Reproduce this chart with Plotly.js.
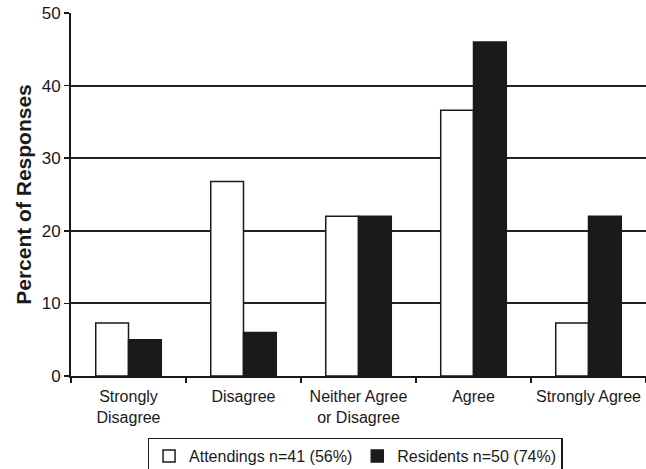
<!DOCTYPE html>
<html>
<head>
<meta charset="utf-8">
<script src="https://cdn.plot.ly/plotly-3.0.1.min.js"></script>
<style>html,body{margin:0;padding:0;background:#fff}#chart{width:646px;height:469px}</style>
</head>
<body>
<div id="chart"></div>
<script>
const categories = ["Strongly<br>Disagree", "Disagree", "Neither Agree<br>or Disagree", "Agree", "Strongly Agree"];
const attendings = [7.3, 26.8, 22.0, 36.6, 7.3];
const residents = [5.0, 6.0, 22.0, 46.0, 22.0];
const seriesNames = ["Attendings n=41 (56%)", "Residents n=50 (74%)"];
const yTicks = [0, 10, 20, 30, 40, 50];

const font = "Liberation Sans, Arial, sans-serif";
const data = [
  {type: "bar", x: categories, y: attendings, name: seriesNames[0],
   marker: {color: "#ffffff", line: {color: "#1a1a1a", width: 1.5}}},
  {type: "bar", x: categories, y: residents, name: seriesNames[1],
   marker: {color: "#1a1a1a", line: {color: "#1a1a1a", width: 1.5}}}
];
const layout = {
  width: 646, height: 469,
  margin: {l: 71, r: 0, t: 13, b: 93, autoexpand: false},
  paper_bgcolor: "#fff", plot_bgcolor: "#fff",
  font: {family: font, color: "#1a1a1a", size: 16},
  barmode: "group", bargap: 0.43, bargroupgap: 0,
  showlegend: true,
  legend: {orientation: "h", x: 0.494, xanchor: "center", y: -0.17, yanchor: "top",
    bordercolor: "#1a1a1a", borderwidth: 1.5, font: {size: 16, family: font},
    traceorder: "normal", itemwidth: 30},
  xaxis: {showline: true, linecolor: "#1a1a1a", linewidth: 2, ticks: "outside",
    tickson: "boundaries", ticklen: 5, tickcolor: "#1a1a1a", tickwidth: 1.5,
    ticklabelstandoff: 5, automargin: false,
    tickfont: {size: 16, family: font}, showgrid: false},
  yaxis: {range: [0, 50], tickvals: yTicks, ticktext: yTicks.map(String), automargin: false,
    showline: true, linecolor: "#1a1a1a", linewidth: 2, ticks: "outside", ticklen: 5,
    tickcolor: "#1a1a1a", tickwidth: 1.5, showgrid: true, gridcolor: "#222222", gridwidth: 2,
    zeroline: false, tickfont: {size: 17, family: font},
    title: {text: "<b>Percent of Responses</b>", font: {size: 21, family: font}, standoff: 4}}
};
Plotly.newPlot("chart", data, layout, {displayModeBar: false, staticPlot: true});
</script>
</body>
</html>
